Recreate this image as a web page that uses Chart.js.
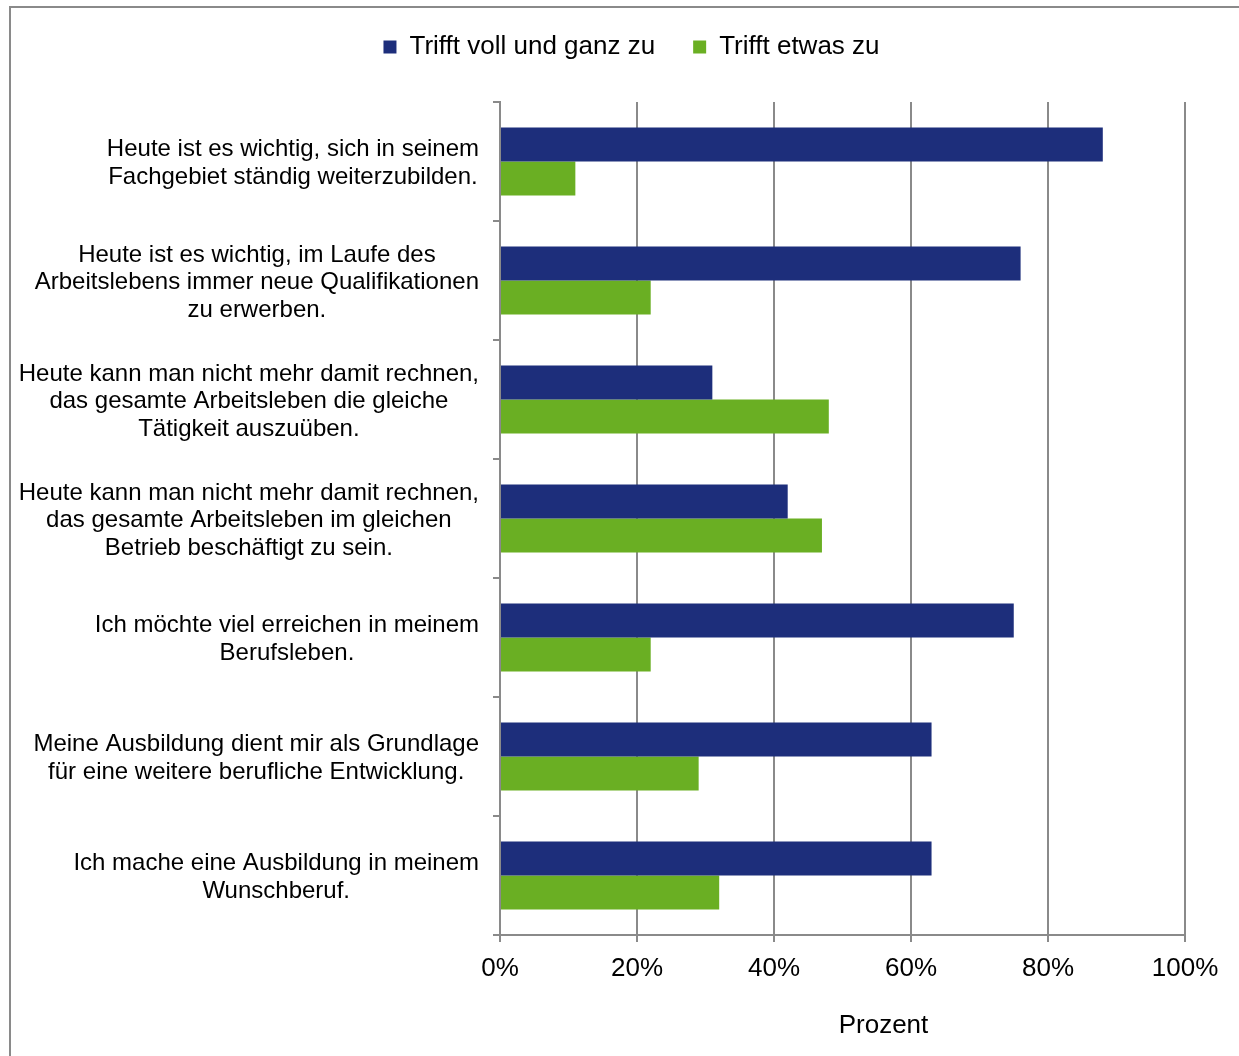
<!DOCTYPE html>
<html lang="de">
<head>
<meta charset="UTF-8"/>
<title>Einstellungen zu Beruf und Weiterbildung</title>
<script src="https://cdn.jsdelivr.net/npm/chart.js@4.4.7/dist/chart.umd.min.js"></script>
<style>
*{box-sizing:border-box;margin:0;padding:0}
html,body{width:1239px;height:1056px;overflow:hidden;background:#fff}
.frame{position:absolute;left:9px;top:6px;width:1300px;height:1100px;border:2px solid #8a8a8a}
.wrap{position:absolute;left:0;top:0;width:1239px;height:1056px}
</style>
</head>
<body>
<div class="frame"></div>
<div class="wrap"><canvas id="chart"></canvas></div>
<script>
const categories = [
  ['Heute ist es wichtig, sich in seinem', 'Fachgebiet ständig weiterzubilden.'],
  ['Heute ist es wichtig, im Laufe des', 'Arbeitslebens immer neue Qualifikationen', 'zu erwerben.'],
  ['Heute kann man nicht mehr damit rechnen,', 'das gesamte Arbeitsleben die gleiche', 'Tätigkeit auszuüben.'],
  ['Heute kann man nicht mehr damit rechnen,', 'das gesamte Arbeitsleben im gleichen', 'Betrieb beschäftigt zu sein.'],
  ['Ich möchte viel erreichen in meinem', 'Berufsleben.'],
  ['Meine Ausbildung dient mir als Grundlage', 'für eine weitere berufliche Entwicklung.'],
  ['Ich mache eine Ausbildung in meinem', 'Wunschberuf.']
];
const seriesNames = ['Trifft voll und ganz zu', 'Trifft etwas zu'];
const vollUndGanz = [88, 76, 31, 42, 75, 63, 63];
const etwas       = [11, 22, 48, 47, 22, 29, 32];
const axisTitle   = 'Prozent';

const FONT = '"Liberation Sans", Arial, sans-serif';
const GRID = '#8a8a8a';

// category labels: each block right-bound next to the axis, lines centred inside the block
const blockLabels = {
  id: 'blockLabels',
  afterDraw(chart) {
    const ys = chart.scales.y;
    const ctx = chart.ctx;
    ctx.save();
    ctx.font = '24px ' + FONT;
    ctx.fillStyle = '#000';
    ctx.textAlign = 'center';
    ctx.textBaseline = 'middle';
    categories.forEach((lines, i) => {
      const w = Math.max(...lines.map((l) => ctx.measureText(l).width));
      const cx = ys.right - 21 - w / 2;
      const cy = ys.getPixelForTick(i) + 2;
      lines.forEach((l, j) => ctx.fillText(l, cx, cy + (j - (lines.length - 1) / 2) * 27.5));
    });
    // axis title, sits a bit right of the plot centre
    const a = chart.chartArea;
    ctx.font = '26px ' + FONT;
    ctx.fillText(axisTitle, (a.left + a.right) / 2 + 41, 1026);
    ctx.restore();
  }
};

// fixed legend band above the plot, shifted right
const legendBand = {
  id: 'legendBand',
  beforeInit(chart) {
    const fit = chart.legend.fit;
    chart.legend.fit = function () { fit.call(this); this.height = 102; };
  },
  afterLayout(chart) {
    const lg = chart.legend;
    lg.left += 39; lg.right += 39;
    lg.top -= 4; lg.bottom -= 4;
  }
};

new Chart(document.getElementById('chart'), {
  type: 'bar',
  data: {
    labels: categories,
    datasets: [
      { label: seriesNames[0], data: vollUndGanz, backgroundColor: '#1d2e7b', borderWidth: 0 },
      { label: seriesNames[1], data: etwas, backgroundColor: '#6aaf23', borderWidth: 0 }
    ]
  },
  options: {
    indexAxis: 'y',
    responsive: true,
    maintainAspectRatio: false,
    animation: false,
    devicePixelRatio: 1,
    categoryPercentage: 0.57,
    barPercentage: 1,
    layout: { padding: { top: 0, right: 54, bottom: 0, left: 0 } },
    plugins: {
      legend: {
        position: 'top',
        labels: { boxWidth: 13, boxHeight: 13, padding: 38, color: '#000', font: { family: FONT, size: 26 } }
      },
      tooltip: { enabled: false }
    },
    scales: {
      x: {
        min: 0, max: 100,
        ticks: { stepSize: 20, callback: (v) => v + '%', color: '#000', padding: 11, font: { family: FONT, size: 26 } },
        grid: { color: GRID, lineWidth: 2, tickLength: 7 },
        border: { color: GRID, width: 2 },
        afterFit: (s) => { s.height = 121; }
      },
      y: {
        ticks: { display: false },
        grid: { drawOnChartArea: false, color: GRID, lineWidth: 2, tickLength: 7, offset: true },
        border: { color: GRID, width: 2 },
        afterFit: (s) => { s.width = 500; }
      }
    }
  },
  plugins: [blockLabels, legendBand]
});
</script>
</body>
</html>
